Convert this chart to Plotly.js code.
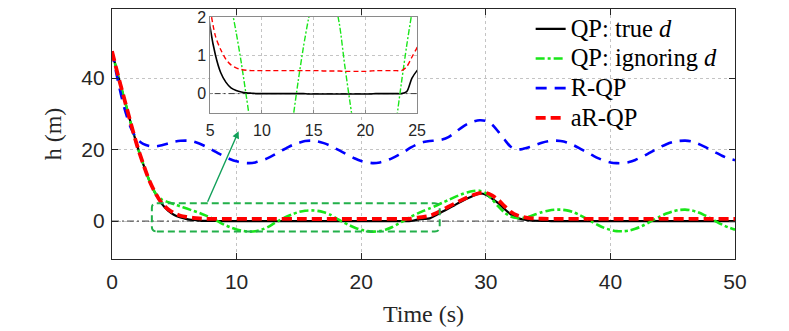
<!DOCTYPE html>
<html>
<head>
<meta charset="utf-8">
<script src="https://cdn.plot.ly/plotly-3.0.1.min.js"></script>
<style>html,body{margin:0;padding:0;background:#fff;}#plot{width:789px;height:331px;}</style>
</head>
<body>
<div id="plot"></div>
<script>
// ---- data ----
const time = [
  0,0.5,1,1.5,2,2.5,3,3.5,4,4.5,
  5,5.5,6,6.5,7,7.5,8,8.5,9,9.5,
  10,10.5,11,11.5,12,12.5,13,13.5,14,14.5,
  15,15.5,16,16.5,17,17.5,18,18.5,19,19.5,
  20,20.5,21,21.5,22,22.5,23,23.5,24,24.5,
  25,25.5,26,26.5,27,27.5,28,28.5,29,29.5,
  30,30.5,31,31.5,32,32.5,33,33.5,34,34.5,
  35,35.5,36,36.5,37,37.5,38,38.5,39,39.5,
  40,40.5,41,41.5,42,42.5,43,43.5,44,44.5,
  45,45.5,46,46.5,47,47.5,48,48.5,49,49.5,
  50];
const qpTrue = [
  47.5,40.5,34.0,27.5,21.3,16.0,11.3,7.6,4.8,2.9,
  1.7,1.0,0.55,0.3,0.15,0.08,0.04,0.02,0.01,0,
  0,0,0,0,0,0,0,0,0,-0.01,
  -0.01,-0.01,-0.01,-0.01,-0.01,-0.01,-0.01,-0.01,-0.01,-0.01,
  -0.01,-0.01,0,0,0,0,0,0,0.05,0.4,
  0.6,0.75,1.65,2.6,3.5,4.45,5.4,6.3,7.1,7.7,
  7.4,6.3,5.0,3.4,1.9,0.9,0.45,0.2,0.1,0.05,
  0.02,0,0,0,0,0,0,0,0,0,
  0,0,0,0,0,0,0,0,0,0,
  0,0,0,0,0,0,0,0,0,0,
  0];
const qpIgnoring = [
  47.5,40.5,34.0,27.5,21.3,16.0,11.3,7.7,6.0,5.3,
  4.7,4.1,3.5,2.9,2.3,1.6,0.8,-0.1,-1.0,-1.75,
  -2.35,-2.75,-2.95,-2.85,-2.4,-1.7,-0.65,0.32,1.2,1.95,
  2.55,2.9,3.0,2.85,2.45,1.8,0.75,-0.2,-1.1,-1.85,
  -2.45,-2.8,-2.95,-2.8,-2.35,-1.65,-0.7,0.3,1.25,2.1,
  2.85,3.55,4.3,5.1,5.9,6.7,7.4,8.0,8.4,8.5,
  7.8,6.1,4.1,2.4,1.3,0.85,0.9,1.3,1.9,2.5,
  2.9,3.15,3.2,3.0,2.5,1.75,0.85,-0.15,-1.1,-1.9,
  -2.45,-2.8,-2.85,-2.65,-2.15,-1.45,-0.55,0.4,1.3,2.1,
  2.7,3.1,3.2,3.0,2.5,1.75,0.85,-0.15,-1.05,-1.8,
  -2.4];
const rQP = [
  47.5,38.8,31.5,26.2,23.0,21.6,21.0,20.9,21.2,21.7,
  22.2,22.45,22.5,22.3,21.7,20.9,20.0,19.0,18.1,17.3,
  16.7,16.3,16.2,16.4,16.9,17.6,18.5,19.5,20.4,21.3,
  21.9,22.4,22.5,22.3,21.8,21.1,20.2,19.3,18.4,17.5,
  16.8,16.4,16.2,16.4,16.9,17.6,18.5,19.5,20.6,21.5,
  22.1,22.4,22.5,22.8,23.5,24.7,26.0,27.1,27.8,28.2,
  28.0,27.0,25.0,22.8,20.8,20.0,20.2,20.7,21.3,21.9,
  22.3,22.5,22.4,22.0,21.3,20.4,19.4,18.5,17.6,16.9,
  16.4,16.2,16.2,16.5,17.1,17.9,18.8,19.8,20.7,21.5,
  22.1,22.4,22.5,22.3,21.7,20.9,20.0,19.1,18.2,17.5,
  17.0];
const arQP = [
  47.5,40.5,34.0,27.5,21.3,16.0,11.3,7.7,5.0,3.3,
  2.2,1.5,1.15,0.9,0.75,0.67,0.63,0.61,0.6,0.6,
  0.6,0.6,0.6,0.6,0.6,0.6,0.6,0.6,0.6,0.6,
  0.6,0.6,0.59,0.59,0.59,0.59,0.58,0.58,0.58,0.58,
  0.58,0.59,0.6,0.6,0.6,0.6,0.6,0.6,0.7,0.95,
  1.2,1.5,2.2,3.1,4.0,4.9,5.8,6.6,7.3,7.8,
  7.9,7.2,5.9,4.2,2.6,1.6,1.1,0.85,0.72,0.65,
  0.62,0.6,0.6,0.6,0.6,0.6,0.6,0.6,0.6,0.6,
  0.6,0.6,0.6,0.6,0.6,0.6,0.6,0.6,0.6,0.6,
  0.6,0.6,0.6,0.6,0.6,0.6,0.6,0.6,0.6,0.6,
  0.6];
const zeroLineX = [0, 50];
const zeroLineY = [0, 0];
const seriesNames = ['QP: true <i>d</i>', 'QP: ignoring <i>d</i>', 'R-QP', 'aR-QP'];
const mainXTicks = [0, 10, 20, 30, 40, 50];
const mainYTicks = [0, 20, 40];
const insetXTicks = [5, 10, 15, 20, 25];
const insetYTicks = [0, 1, 2];

// ---- styling ----
const AX = '#262626';
const GRID = '#c4c4c4';
const SANS = 'Liberation Sans, Arial, sans-serif';
const SERIF = 'Liberation Serif, Times New Roman, serif';
const GREEN = '#19e619';
const legendName = s => '<span style="font-size:24.5px">' + s + '</span>';

const traces = [
  {x: zeroLineX, y: zeroLineY, mode: 'lines', showlegend: false, hoverinfo: 'skip',
   line: {color: '#3a3a3a', width: 1, dash: '7px,3px,2px,3px'}},
  {x: time, y: qpTrue, name: legendName(seriesNames[0]), mode: 'lines',
   line: {color: '#000000', width: 2.2, shape: 'spline', smoothing: 0.8}},
  {x: time, y: qpIgnoring, name: legendName(seriesNames[1]), mode: 'lines',
   line: {color: GREEN, width: 2.6, dash: '9px,3px,3px,3px', shape: 'spline', smoothing: 0.8}},
  {x: time, y: rQP, name: legendName(seriesNames[2]), mode: 'lines',
   line: {color: '#0000ff', width: 2.6, dash: '11px,8px', shape: 'spline', smoothing: 0.8}},
  {x: time, y: arQP, name: legendName(seriesNames[3]), mode: 'lines',
   line: {color: '#ff0000', width: 3.8, dash: '10px,5px', shape: 'spline', smoothing: 0.8}},
  // inset
  {x: zeroLineX, y: zeroLineY, xaxis: 'x2', yaxis: 'y2', mode: 'lines', showlegend: false, hoverinfo: 'skip',
   line: {color: '#3a3a3a', width: 1, dash: '6px,3px,2px,3px'}},
  {x: time, y: qpTrue, xaxis: 'x2', yaxis: 'y2', mode: 'lines', showlegend: false,
   line: {color: '#000000', width: 1.6, shape: 'spline', smoothing: 0.8}},
  {x: time, y: qpIgnoring, xaxis: 'x2', yaxis: 'y2', mode: 'lines', showlegend: false,
   line: {color: GREEN, width: 1.4, dash: '6px,2px,2px,2px', shape: 'spline', smoothing: 0.8}},
  {x: time, y: arQP, xaxis: 'x2', yaxis: 'y2', mode: 'lines', showlegend: false,
   line: {color: '#ff0000', width: 1.4, dash: '5px,3px', shape: 'spline', smoothing: 0.8}}
];

// zoom box (rounded, data coords) and arrow
const bx0 = 3.2, bx1 = 26.3, by0 = -2.9, by1 = 5.0, rx = 0.4, ry = 1.3;
const boxPath = `M${bx0+rx},${by0} L${bx1-rx},${by0} Q${bx1},${by0} ${bx1},${by0+ry} L${bx1},${by1-ry} Q${bx1},${by1} ${bx1-rx},${by1} L${bx0+rx},${by1} Q${bx0},${by1} ${bx0},${by1-ry} L${bx0},${by0+ry} Q${bx0},${by0} ${bx0+rx},${by0} Z`;

const axisCommon = {
  showline: true, mirror: 'ticks', linecolor: AX, linewidth: 1.2,
  ticks: 'inside', ticklen: 6, tickwidth: 1, tickcolor: AX,
  showgrid: true, gridcolor: GRID, griddash: 'dot', gridwidth: 1,
  zeroline: false, tickfont: {family: SANS, size: 21, color: AX}
};

const layout = {
  width: 789, height: 331,
  margin: {l: 112, r: 54, t: 9, b: 72},
  paper_bgcolor: '#ffffff', plot_bgcolor: '#ffffff',
  showlegend: true,
  legend: {x: 0.672, y: 1.0, xanchor: 'left', yanchor: 'top', bgcolor: 'rgba(0,0,0,0)',
           borderwidth: 0, font: {family: SERIF, size: 20.5, color: '#000'}, tracegroupgap: 0},
  xaxis: Object.assign({}, axisCommon, {range: [0, 50], tickvals: mainXTicks, ticktext: mainXTicks.map(String),
    ticklabelstandoff: 4,
    title: {text: 'Time (s)', font: {family: SERIF, size: 24, color: AX}, standoff: 12}}),
  yaxis: Object.assign({}, axisCommon, {range: [-10.6, 59.3], tickvals: mainYTicks, ticktext: mainYTicks.map(String),
    ticklabelstandoff: 2,
    title: {text: 'h (m)', font: {family: SERIF, size: 24, color: AX}, standoff: 12}}),
  xaxis2: {domain: [0.1578, 0.4896], anchor: 'y2', range: [5, 25], tickvals: insetXTicks,
    showline: true, mirror: true, linecolor: '#8a8a8a', linewidth: 1,
    ticks: 'inside', ticklen: 3, tickcolor: '#8a8a8a',
    showgrid: true, gridcolor: GRID, griddash: 'dot', zeroline: false,
    ticklabelstandoff: 3,
    tickfont: {family: SANS, size: 16, color: AX}},
  yaxis2: {domain: [0.585, 0.968], anchor: 'x2', range: [-0.5, 2], tickvals: insetYTicks,
    showline: true, mirror: true, linecolor: '#8a8a8a', linewidth: 1,
    ticks: 'inside', ticklen: 3, tickcolor: '#8a8a8a',
    showgrid: true, gridcolor: GRID, griddash: 'dot', zeroline: false,
    tickfont: {family: SANS, size: 16, color: AX}},
  shapes: [
    {type: 'path', xref: 'x', yref: 'y', path: boxPath, line: {color: '#22b04a', width: 2, dash: '7px,4px'}}
  ],
  annotations: [
    {x: 10.16, y: 25.1, xref: 'x', yref: 'y', ax: 7.62, ay: 5.0, axref: 'x', ayref: 'y',
     text: '', showarrow: true, arrowhead: 2, arrowsize: 1, arrowwidth: 1.4, arrowcolor: '#12a05a'}
  ]
};

Plotly.newPlot('plot', traces, layout, {staticPlot: true, displayModeBar: false});
</script>
</body>
</html>
